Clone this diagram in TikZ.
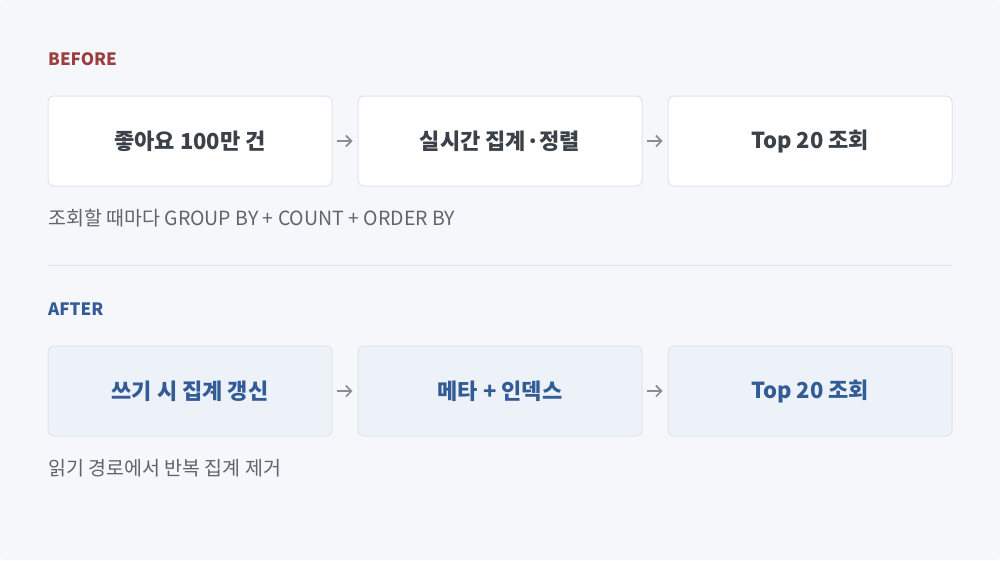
\documentclass[tikz,border=0pt]{standalone}
\usepackage{fontspec}
\setmainfont{Noto Sans CJK KR}
\usetikzlibrary{arrows.meta,positioning}

\definecolor{bgpanel}{HTML}{F5F7FA}
\definecolor{boxline}{HTML}{DFE4EA}
\definecolor{afterfill}{HTML}{EDF2F9}
\definecolor{inktext}{HTML}{3B4148}
\definecolor{captext}{HTML}{5E656E}
\definecolor{beforered}{HTML}{9A3E3E}
\definecolor{afterblue}{HTML}{335C96}
\definecolor{arrowgray}{HTML}{868D95}

\tikzset{
  stagebox/.style={draw=boxline, line width=1pt, rounded corners=6pt, fill=white,
    minimum width=284pt, minimum height=90pt, inner sep=0pt,
    font=\fontsize{22}{26}\selectfont\bfseries, text=inktext},
  newbox/.style={stagebox, fill=afterfill, text=afterblue},
  tag/.style={anchor=west, inner sep=0pt, font=\fontsize{17}{20}\selectfont\bfseries},
  caption/.style={anchor=west, inner sep=0pt, font=\fontsize{19.5}{23}\selectfont, text=captext},
  flow/.style={-{Straight Barb[length=5.5pt,width=11pt]}, draw=arrowgray, line width=1.6pt,
    shorten <=4pt, shorten >=5pt}
}

\begin{document}
\begin{tikzpicture}[x=1pt,y=-1pt]
  \useasboundingbox (0,0) rectangle (1000,560);
  \fill[bgpanel, rounded corners=4pt] (0,0) rectangle (1000,560);

  \node[tag, text=beforered] (beforetag) at (48,59) {BEFORE};
  \node[stagebox] (likes) at (190,141) {좋아요 100만 건};
  \node[stagebox] (agg) at (500,141) {실시간 집계·정렬};
  \node[stagebox] (topold) at (810,141) {Top 20 조회};
  \draw[flow] (likes) -- (agg);
  \draw[flow] (agg) -- (topold);
  \node[caption] (beforenote) at (48,218) {조회할 때마다 GROUP BY + COUNT + ORDER BY};

  \draw[boxline, line width=1pt] (48,265) -- (952,265);

  \node[tag, text=afterblue] (aftertag) at (48,309) {AFTER};
  \node[newbox] (write) at (190,391) {쓰기 시 집계 갱신};
  \node[newbox] (meta) at (500,391) {메타 + 인덱스};
  \node[newbox] (topnew) at (810,391) {Top 20 조회};
  \draw[flow] (write) -- (meta);
  \draw[flow] (meta) -- (topnew);
  \node[caption] (afternote) at (48,468) {읽기 경로에서 반복 집계 제거};
\end{tikzpicture}
\end{document}
